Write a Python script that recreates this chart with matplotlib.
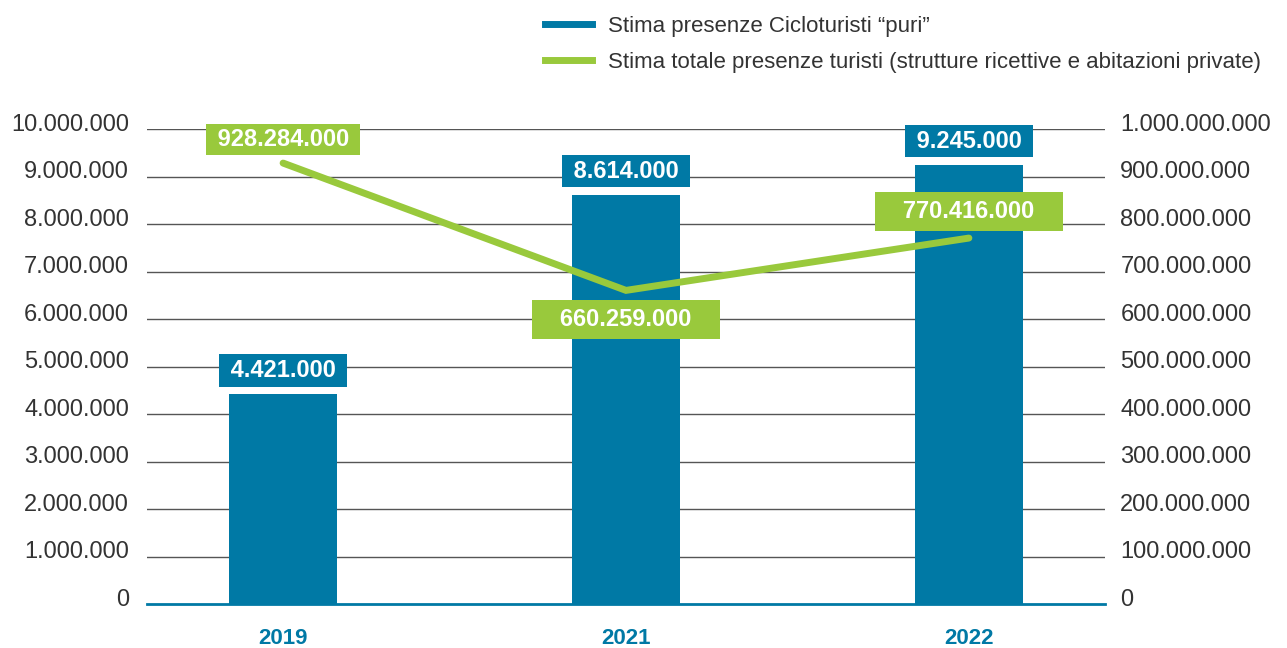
import numpy as np
import matplotlib
matplotlib.use('Agg')
from matplotlib import pyplot as plt
from matplotlib.lines import Line2D
from matplotlib.transforms import ScaledTranslation

plt.rcParams['font.family'] = ['Liberation Sans', 'DejaVu Sans']

years = ['2019', '2021', '2022']
ciclo = [4421000, 8614000, 9245000]
totale = [928284000, 660259000, 770416000]
ciclo_labels = ['4.421.000', '8.614.000', '9.245.000']
totale_labels = ['928.284.000', '660.259.000', '770.416.000']
left_ticks = np.arange(0, 10000001, 1000000)
right_ticks = np.arange(0, 1000000001, 100000000)
legend_labels = ['Stima presenze Cicloturisti \u201cpuri\u201d',
                 'Stima totale presenze turisti (strutture ricettive e abitazioni private)']

BLUE = '#0079a5'
GREEN = '#99c93c'
TXT = '#333333'


def fmt_it(v):
    return f"{int(v):,}".replace(',', '.')


fig = plt.figure(figsize=(12.87, 6.48), dpi=100)
ax = fig.add_axes([0.1142, 0.0679, 0.7444, 0.733])
ax2 = ax.twinx()

x = np.arange(len(years))
ax.bar(x, ciclo, width=0.315, color=BLUE, zorder=2)
ax2.plot(x, totale, color=GREEN, lw=5, solid_capstyle='round', solid_joinstyle='miter', zorder=3)

ax.set_xlim(-0.397, 2.397)
ax.set_ylim(0, 10000000)
ax2.set_ylim(0, 1000000000)

ax.set_yticks(left_ticks)
ax.set_yticklabels([fmt_it(v) for v in left_ticks])
ax2.set_yticks(right_ticks)
ax2.set_yticklabels([fmt_it(v) for v in right_ticks])

# gridlines (the zero line is the blue baseline)
for v in left_ticks[1:]:
    ax.axhline(v, color='#555555', lw=1, zorder=1)

for a in (ax, ax2):
    for s in ('top', 'left', 'right', 'bottom'):
        a.spines[s].set_visible(False)
ax.axhline(0, color=BLUE, lw=2, zorder=3, clip_on=False)

ax.tick_params(axis='y', length=0, pad=13, labelsize=17, labelcolor=TXT)
ax2.tick_params(axis='y', length=0, pad=11, labelsize=17, labelcolor=TXT)
ax.set_xticks(x)
ax.set_xticklabels(years, fontweight='bold', color=BLUE, fontsize=16)
ax.tick_params(axis='x', length=0, pad=17)

# y labels sit a little above their gridlines
for lab in ax.get_yticklabels() + ax2.get_yticklabels():
    lab.set_transform(lab.get_transform() + ScaledTranslation(0, 5 / 72, fig.dpi_scale_trans))

# value boxes
for xi, v, t in zip(x, ciclo, ciclo_labels):
    ax.annotate(' ' + t + ' ', (xi, v), xytext=(0, 17), textcoords='offset points',
                ha='center', va='center', fontsize=17, fontweight='bold', color='white',
                bbox=dict(boxstyle='square,pad=0.2', fc=BLUE, ec='none'), zorder=5)

tot_offsets = [17, -21, 19]
tot_pads = [(' ', 0.18), ('   ', 0.35), ('   ', 0.35)]
for xi, v, t, off, (sp, pd) in zip(x, totale, totale_labels, tot_offsets, tot_pads):
    ax2.annotate(sp + t + sp, (xi, v), xytext=(0, off), textcoords='offset points',
                 ha='center', va='center', fontsize=17, fontweight='bold', color='white',
                 bbox=dict(boxstyle=f'square,pad={pd}', fc=GREEN, ec='none'), zorder=5)

handles = [Line2D([], [], color=BLUE, lw=5), Line2D([], [], color=GREEN, lw=5)]
fig.legend(handles, legend_labels, loc='upper right', bbox_to_anchor=(0.995, 1.006),
           frameon=False, fontsize=16, alignment='right', handlelength=2.1,
           handletextpad=0.7, labelspacing=0.68, labelcolor=TXT)

fig.savefig('out.png', dpi=100)
